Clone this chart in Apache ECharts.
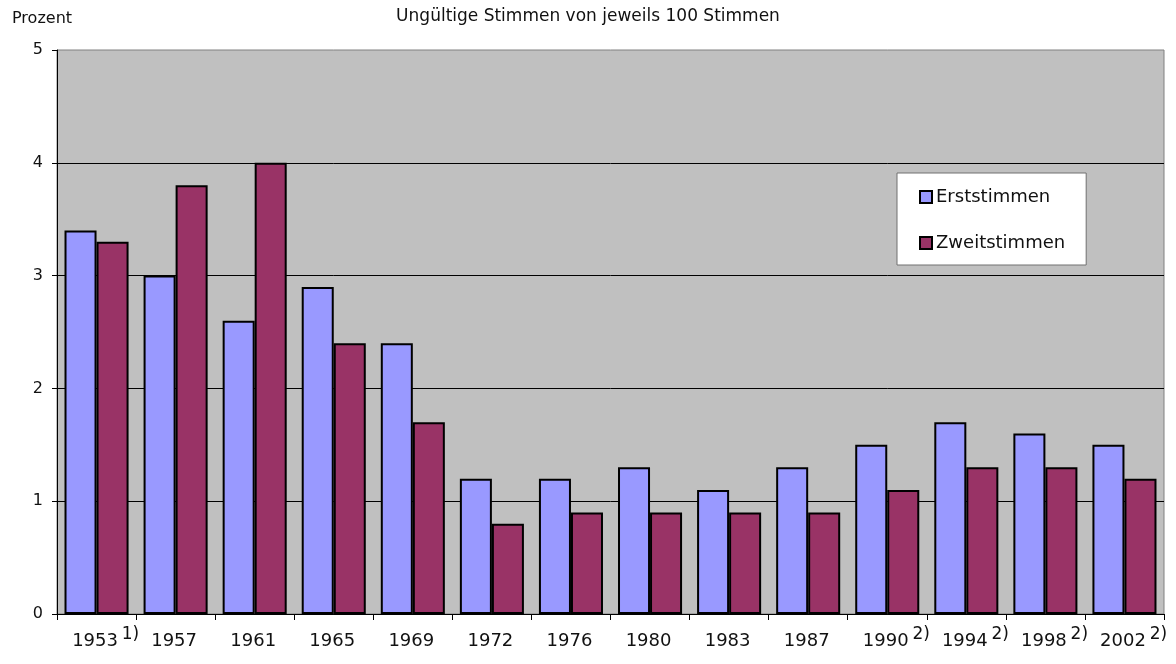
<!DOCTYPE html>
<html>
<head>
<meta charset="utf-8">
<script src="https://cdn.jsdelivr.net/npm/echarts@6/dist/echarts.min.js"></script>
<style>
  html, body { margin: 0; padding: 0; background: #fff; }
  #chart { width: 1176px; height: 664px; }
</style>
</head>
<body>
<div id="chart"></div>
<script>
const years = ['1953', '1957', '1961', '1965', '1969', '1972', '1976', '1980', '1983', '1987', '1990', '1994', '1998', '2002']
const notes = ['1)', '', '', '', '', '', '', '', '', '', '2)', '2)', '2)', '2)']
const erst = [3.4, 3.0, 2.6, 2.9, 2.4, 1.2, 1.2, 1.3, 1.1, 1.3, 1.5, 1.7, 1.6, 1.5]
const zweit = [3.3, 3.8, 4.0, 2.4, 1.7, 0.8, 0.9, 0.9, 0.9, 0.9, 1.1, 1.3, 1.3, 1.2]

const FONT = '"DejaVu Sans", sans-serif'
const chart = echarts.init(document.getElementById('chart'))

chart.setOption({
  animation: false,
  textStyle: { fontFamily: FONT },
  title: [
    {
      text: 'Ungültige Stimmen von jeweils 100 Stimmen',
      left: 'center',
      top: 3,
      textStyle: { fontSize: 17, fontWeight: 'normal', color: '#111', fontFamily: FONT }
    },
    {
      text: 'Prozent',
      left: 7,
      top: 6,
      textStyle: { fontSize: 16, fontWeight: 'normal', color: '#111', fontFamily: FONT }
    }
  ],
  legend: {
    orient: 'vertical',
    left: 897,
    top: 173,
    padding: [15, 21, 13, 22],
    itemGap: 28,
    itemWidth: 12,
    itemHeight: 12,
    icon: 'rect',
    backgroundColor: '#fff',
    borderColor: '#707070',
    borderWidth: 1,
    textStyle: { fontSize: 18, color: '#111', fontFamily: FONT, padding: [0, 0, 0, -1] }
  },
  grid: {
    left: 57,
    right: 12,
    top: 50,
    bottom: 50,
    show: true,
    backgroundColor: '#c0c0c0',
    borderColor: '#808080',
    borderWidth: 1
  },
  xAxis: {
    type: 'category',
    data: years,
    axisLine: { lineStyle: { color: '#000', width: 1 } },
    axisTick: { show: true, length: 6, interval: 0, lineStyle: { color: '#000' } },
    axisLabel: {
      interval: 0,
      margin: 12,
      color: '#111',
      fontSize: 18,
      fontFamily: FONT,
      formatter: (v, i) => '{pad|' + (notes[i] ? 'x' : '') + '}{y|' + v + '}{sup|' + (notes[i] || '') + '}',
      rich: {
        pad: { width: 19, color: 'transparent', fontSize: 16 },
        y: { fontSize: 18, color: '#111', fontFamily: FONT, lineHeight: 24 },
        sup: { fontSize: 17, color: '#111', fontFamily: FONT, width: 19, padding: [0, 0, 14, 3], verticalAlign: 'bottom' }
      }
    }
  },
  yAxis: {
    type: 'value',
    min: 0,
    max: 5,
    interval: 1,
    axisLine: { show: true, lineStyle: { color: '#000', width: 1 } },
    axisTick: { show: true, length: 5, lineStyle: { color: '#000' } },
    axisLabel: { fontSize: 16, color: '#111', margin: 14, fontFamily: FONT },
    splitLine: { showMaxLine: false, lineStyle: { color: '#000', width: 1 } }
  },
  series: [
    {
      name: 'Erststimmen',
      type: 'bar',
      data: erst,
      barGap: '0%',
      barCategoryGap: '19%',
      itemStyle: { color: '#9999ff', borderColor: '#000', borderWidth: 2 }
    },
    {
      name: 'Zweitstimmen',
      type: 'bar',
      data: zweit,
      itemStyle: { color: '#993366', borderColor: '#000', borderWidth: 2 }
    }
  ]
})
</script>
</body>
</html>
